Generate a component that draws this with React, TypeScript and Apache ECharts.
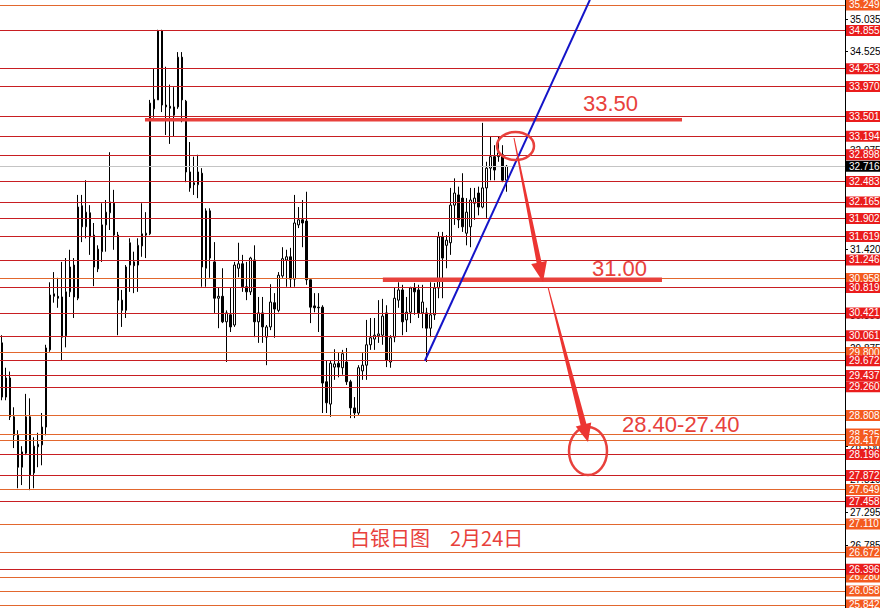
import React, { useEffect, useRef } from "react";
import * as echarts from "echarts";

// [open, close, low, high]
const candles: number[][] = [
  [29.95, 29.10, 29.05, 30.07], [29.10, 29.40, 29.05, 29.56], [29.40, 28.79, 28.74, 29.50], [28.79, 28.50, 28.30, 28.94],
  [28.50, 28.00, 27.67, 28.58], [28.00, 28.24, 27.72, 28.33], [28.22, 28.79, 28.19, 29.15], [28.79, 27.88, 27.64, 29.08],
  [27.91, 28.33, 27.67, 28.47], [28.32, 28.36, 28.00, 28.54], [28.35, 28.63, 28.03, 28.85], [28.63, 29.87, 28.50, 29.92],
  [29.84, 30.70, 29.81, 30.90], [30.68, 30.72, 30.58, 31.06], [30.68, 30.65, 30.50, 30.97], [30.67, 30.04, 29.68, 31.22],
  [30.06, 30.75, 29.88, 31.28], [30.75, 31.14, 30.67, 31.41], [31.17, 30.67, 30.34, 31.28], [30.65, 32.08, 30.62, 32.27],
  [32.10, 31.77, 31.53, 32.27], [31.77, 32.00, 31.59, 32.50], [31.99, 31.61, 31.33, 32.11], [31.64, 31.14, 30.84, 31.83],
  [31.11, 31.42, 31.06, 31.48], [31.38, 31.80, 31.22, 32.14], [31.80, 32.00, 31.38, 32.19], [31.99, 32.16, 31.72, 32.94],
  [32.14, 31.64, 31.41, 32.35], [31.64, 30.62, 30.07, 31.69], [30.62, 30.46, 30.20, 30.78], [30.46, 31.14, 30.34, 31.17],
  [31.17, 31.52, 30.75, 31.59], [31.22, 31.16, 30.73, 31.38], [31.17, 31.48, 30.75, 31.59], [31.47, 31.66, 31.30, 32.14],
  [31.64, 31.67, 31.28, 32.00], [31.66, 33.71, 31.64, 33.76], [33.62, 33.77, 33.48, 34.26], [33.76, 34.84, 33.76, 34.86],
  [34.84, 33.68, 33.57, 34.86], [33.65, 33.68, 33.21, 34.28], [33.66, 33.63, 33.07, 34.00], [33.52, 33.65, 33.18, 33.96],
  [33.65, 34.43, 33.62, 34.51], [34.43, 33.76, 33.41, 34.51], [33.74, 32.63, 32.47, 33.76], [32.63, 32.38, 32.32, 33.10],
  [32.46, 32.43, 32.27, 32.87], [32.43, 32.63, 32.22, 32.90], [32.61, 31.14, 30.83, 32.69], [31.12, 32.02, 30.83, 32.06],
  [32.02, 31.28, 30.97, 32.06], [31.22, 30.65, 30.42, 31.53], [30.65, 30.68, 30.18, 30.81], [30.68, 30.28, 30.26, 31.12],
  [30.28, 30.42, 29.65, 30.46], [30.39, 30.20, 30.12, 30.81], [30.23, 31.17, 30.20, 31.22], [31.12, 31.19, 30.98, 31.52],
  [31.19, 30.83, 30.75, 31.33], [30.83, 30.75, 30.62, 31.22], [30.75, 31.28, 30.70, 31.30], [31.25, 30.28, 30.04, 31.48],
  [30.28, 30.42, 29.95, 30.67], [30.42, 30.20, 29.95, 30.67], [30.04, 30.20, 29.60, 30.23], [30.20, 30.59, 30.15, 30.87],
  [30.58, 30.48, 30.03, 30.73], [30.46, 31.01, 30.43, 31.06], [31.00, 31.27, 30.97, 31.45], [31.25, 31.30, 30.83, 31.41],
  [31.30, 30.95, 30.81, 31.44], [30.95, 31.83, 30.83, 32.27], [31.80, 31.88, 31.75, 32.08], [31.88, 31.83, 31.45, 32.19],
  [31.86, 30.94, 30.86, 32.32], [30.94, 30.51, 30.26, 30.94], [30.53, 30.50, 30.43, 30.73], [30.51, 30.50, 30.12, 30.73],
  [30.51, 29.32, 28.85, 30.54], [29.34, 29.01, 28.85, 29.68], [28.99, 29.63, 28.79, 29.68], [29.57, 29.62, 29.37, 29.85],
  [29.63, 29.57, 29.41, 29.79], [29.56, 29.78, 29.45, 29.84], [29.65, 29.34, 29.29, 29.87], [29.34, 28.93, 28.77, 29.37],
  [28.93, 28.85, 28.77, 29.10], [28.85, 29.56, 28.82, 29.60], [29.51, 29.60, 29.37, 29.79], [29.60, 29.92, 29.37, 30.31],
  [29.92, 30.03, 29.84, 30.34], [30.01, 30.07, 29.84, 30.34], [30.06, 30.09, 29.95, 30.62], [30.07, 30.37, 29.92, 30.64],
  [30.42, 29.68, 29.57, 30.54], [29.65, 30.03, 29.56, 30.07], [30.04, 30.65, 29.96, 30.81], [30.62, 30.78, 30.50, 30.90],
  [30.78, 30.28, 30.07, 30.86], [30.31, 30.43, 30.12, 30.67], [30.43, 30.81, 30.26, 30.83], [30.81, 30.75, 30.39, 30.89],
  [30.78, 30.42, 30.34, 30.86], [30.42, 30.59, 30.18, 30.86], [30.42, 30.18, 29.65, 30.50], [30.18, 30.39, 30.04, 30.90],
  [30.39, 30.81, 30.31, 30.89], [30.81, 31.61, 30.65, 31.69], [31.61, 31.28, 30.65, 31.69], [31.48, 31.56, 31.12, 31.64],
  [31.52, 32.11, 31.33, 32.38], [32.11, 32.30, 31.80, 32.53], [32.27, 31.88, 31.75, 32.40], [32.22, 31.77, 31.69, 32.61],
  [31.67, 32.00, 31.48, 32.22], [31.77, 32.19, 31.45, 32.38], [32.14, 32.22, 31.88, 32.38], [32.30, 32.08, 31.95, 32.40],
  [32.08, 32.38, 32.06, 33.40], [32.38, 32.69, 31.91, 32.79], [32.69, 32.87, 32.50, 33.18], [32.87, 32.66, 32.50, 33.05],
  [32.87, 32.93, 32.79, 33.18], [32.90, 32.50, 32.47, 33.05], [32.50, 32.72, 32.32, 32.74],
];
const categories = candles.map((_, i) => `D${i + 1}`);

const orangeLevels = [35.249, 30.958, 29.8, 28.808, 28.525, 28.417, 27.649, 27.11, 26.672, 26.28, 26.058, 25.842];
const redLevels = [
  34.855, 34.253, 33.97, 33.501, 33.194, 32.898, 32.483, 32.165, 31.902, 31.619, 31.246, 30.819, 30.421,
  30.061, 29.672, 29.437, 29.26, 28.196, 27.872, 27.458, 26.396,
];
const currentPrice = 32.716;
// Axis tick labels that are (at least partly) visible between the level tags.
const axisTicks = [35.035, 34.525, 32.975, 31.42, 30.39, 29.875, 28.33, 27.81, 27.295, 26.785];

const resistance = { label: "33.50", value: 33.45, from: 35.7, to: 169.8 };
const support = { label: "31.00", value: 30.94, from: 95.1, to: 164.8 };
const targetText = "28.40-27.40";
const trendLine = [[105.6, 29.67], [146.8, 35.33]];
const titleText = "白银日图　2月24日";

const RED_LINE = "#c81e22";
const RED_BG = "#ea1c1c";
const ORANGE_LINE = "#e2672e";
const ORANGE_BG = "#f45a1e";
const ANN = "#e8413c";

function levelMark(v: number, line: string, bg: string, fg: string) {
  return {
    yAxis: v,
    lineStyle: { color: line, width: 1, type: "solid" },
    label: {
      show: true,
      position: "end",
      distance: 1,
      formatter: () => v.toFixed(3),
      backgroundColor: bg,
      color: fg,
      fontSize: 10,
      fontFamily: "Liberation Sans",
      padding: [1, 3, 0, 3],
      lineHeight: 10,
    },
  };
}

export default function App() {
  const ref = useRef<HTMLDivElement>(null);
  useEffect(() => {
    if (!ref.current) return;
    const chart = echarts.init(ref.current, null, { renderer: "svg" });
    const marks = [
      ...orangeLevels.map((v) => levelMark(v, ORANGE_LINE, ORANGE_BG, "#ffffff")),
      ...redLevels.map((v) => levelMark(v, RED_LINE, RED_BG, "#ffffff")),
      levelMark(currentPrice, "#c4c4c4", "#000000", "#ffffff"),
    ];
    const arrow1 = [[514.5, 137.9], [541.5, 261.9], [546.9, 260.8], [543, 282], [531.2, 264.0], [536.6, 262.9], [513.5, 138.1]];
    const arrow2 = [[548.5, 286.9], [586.4, 423.85], [591.25, 422.6], [588, 442], [575.75, 426.6], [580.6, 425.35], [547.5, 287.1]];
    const annotations: any[] = [
      { type: "ellipse", shape: { cx: 515.5, cy: 146, rx: 18.5, ry: 14 }, style: { fill: "none", stroke: ANN, lineWidth: 2.5 }, z: 10 },
      { type: "ellipse", shape: { cx: 588, cy: 451, rx: 19, ry: 24 }, style: { fill: "none", stroke: ANN, lineWidth: 2.5 }, z: 10 },
      { type: "polygon", shape: { points: arrow1 }, style: { fill: "#ec3532" }, z: 10 },
      { type: "polygon", shape: { points: arrow2 }, style: { fill: "#ec3532" }, z: 10 },
      { type: "text", x: 583, y: 103, style: { text: resistance.label, fill: ANN, font: '22px "Liberation Sans"', verticalAlign: "middle" }, z: 10 },
      { type: "text", x: 592, y: 268, style: { text: support.label, fill: ANN, font: '22px "Liberation Sans"', verticalAlign: "middle" }, z: 10 },
      { type: "text", x: 622, y: 424, style: { text: targetText, fill: ANN, font: '22px "Liberation Sans"', verticalAlign: "middle" }, z: 10 },
      { type: "text", x: 350, y: 537, style: { text: titleText, fill: ANN, font: '20px "Noto Sans CJK SC"', verticalAlign: "middle" }, z: 10 },
    ];
    chart.setOption({
      animation: false,
      backgroundColor: "#ffffff",
      grid: { left: 0, right: 35, top: 0, bottom: 0 },
      xAxis: [
        { type: "category", data: categories, max: 210, show: false, boundaryGap: true },
        { type: "value", min: -0.5, max: 210.5, show: false },
      ],
      yAxis: {
        type: "value",
        position: "right",
        min: 25.792,
        max: 35.327,
        splitLine: { show: false },
        axisLine: { show: false },
        axisTick: { show: false },
        axisLabel: { show: false },
      },
      series: [
        {
          type: "candlestick",
          data: candles,
          barWidth: 2,
          z: 2,
          itemStyle: {
            color: "#ffffff",
            color0: "#000000",
            borderColor: "#000000",
            borderColor0: "#000000",
            borderWidth: 1,
          },
          markLine: { silent: true, symbol: ["none", "none"], animation: false, data: marks },
        },
        {
          type: "line",
          xAxisIndex: 1,
          data: [[resistance.from, resistance.value], [resistance.to, resistance.value]],
          symbol: "none",
          lineStyle: { color: ANN, width: 3.5 },
          silent: true,
          z: 5,
        },
        {
          type: "line",
          xAxisIndex: 1,
          data: [[support.from, support.value], [support.to, support.value]],
          symbol: "none",
          lineStyle: { color: ANN, width: 4.5 },
          silent: true,
          z: 5,
        },
        {
          type: "line",
          xAxisIndex: 1,
          data: trendLine,
          symbol: "none",
          lineStyle: { color: "#1414c8", width: 2 },
          silent: true,
          z: 6,
        },
      ],
      graphic: annotations,
    });
    // Axis line, tick marks and tick labels placed through the y scale.
    const axisX = chart.convertToPixel({ xAxisIndex: 1 }, 210.5) as number;
    const top = chart.convertToPixel({ yAxisIndex: 0 }, 35.327) as number;
    const bottom = chart.convertToPixel({ yAxisIndex: 0 }, 25.792) as number;
    const axisEls: any[] = [
      { type: "line", shape: { x1: axisX + 0.5, y1: top, x2: axisX + 0.5, y2: bottom }, style: { stroke: "#000", lineWidth: 1 }, z: 0 },
    ];
    axisTicks.forEach((v) => {
      const y = Math.round(chart.convertToPixel({ yAxisIndex: 0 }, v) as number) + 0.5;
      axisEls.push({ type: "line", shape: { x1: axisX, y1: y, x2: axisX + 3, y2: y }, style: { stroke: "#000", lineWidth: 1 }, z: 0 });
      axisEls.push({
        type: "text",
        x: axisX + 5,
        y,
        style: { text: v.toFixed(3), fill: "#000", font: '10px "Liberation Sans"', verticalAlign: "middle" },
        z: 0,
      });
    });
    chart.setOption({ graphic: [...annotations, ...axisEls] });
    return () => chart.dispose();
  }, []);
  return (
    <div
      ref={ref}
      style={{ position: "fixed", left: 0, top: 0, width: 880, height: 608, background: "#fff" }}
    />
  );
}
